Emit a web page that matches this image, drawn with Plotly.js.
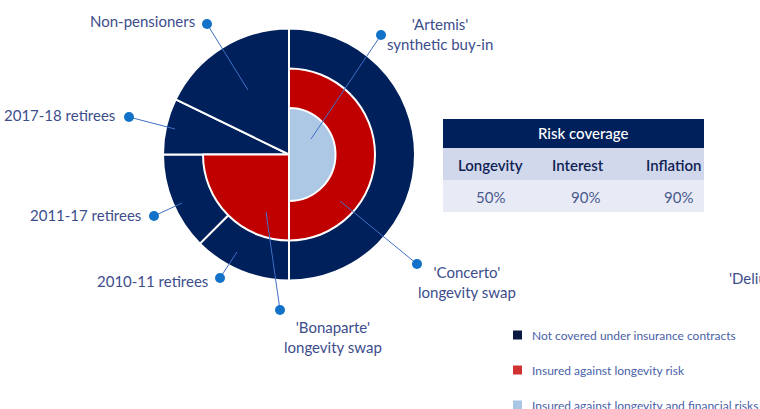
<!DOCTYPE html>
<html>
<head>
<meta charset="utf-8">
<script src="https://cdn.plot.ly/plotly-3.0.1.min.js"></script>
<style>html,body{margin:0;padding:0;background:#fff;}#chart{width:760px;height:409px;}</style>
</head>
<body>
<div id="chart"></div>
<script>
// ---- data ----
const outerLabels = ["Not covered (right half)", "2010-11 retirees", "2011-17 retirees", "2017-18 retirees", "Non-pensioners"];
const outerValues = [50, 12.5, 12.5, 7.2, 17.8];
const middleLabels = ["'Concerto' longevity swap", "'Bonaparte' longevity swap", "Uninsured"];
const middleValues = [50, 25, 25];
const innerLabels = ["'Artemis' synthetic buy-in", "Other"];
const innerValues = [50, 50];

const riskTitle = "Risk coverage";
const riskLabels = ["Longevity", "Interest", "Inflation"];
const riskValues = ["50%", "90%", "90%"];

const legendLabels = ["Not covered under insurance contracts", "Insured against longevity risk", "Insured against longevity and financial risks"];

// ---- styling / layout helpers ----
const W = 760, H = 409;
const CX = 289, CY = 154.5;
const NAVY = "#00205b", RED = "#c00000", LBLUE = "#adc8e4", CLEAR = "rgba(0,0,0,0)";
const px = x => x / W, py = y => 1 - y / H;
const dom = r => ({x: [px(CX - r), px(CX + r)], y: [py(CY + r), py(CY - r)]});

const pieBase = {type: "pie", sort: false, direction: "clockwise", rotation: 0,
  textinfo: "none", hoverinfo: "none", showlegend: false};

const traces = [
  Object.assign({}, pieBase, {labels: outerLabels, values: outerValues, domain: dom(126), hole: 0,
    marker: {colors: outerLabels.map(() => NAVY), line: {color: "#fff", width: 2}}}),
  Object.assign({}, pieBase, {labels: middleLabels, values: middleValues, domain: dom(86), hole: 0,
    marker: {colors: [RED, RED, CLEAR], line: {color: "#fff", width: [2, 2, 0]}}}),
  Object.assign({}, pieBase, {labels: innerLabels, values: innerValues, domain: dom(46.5), hole: 0,
    marker: {colors: [LBLUE, CLEAR], line: {color: "#fff", width: [2, 0]}}})
];

const LBL = "#3d4d8c";
const labelFont = {family: "Lato, 'Open Sans', sans-serif", size: 15, color: LBL};
const shapes = [], annotations = [];

// leader lines: [label text, text x, text y, anchor, dot x, dot y, target x, target y]
const leaders = [
  [outerLabels[4], 197, 21, "right", 207, 24, 248, 90],
  [outerLabels[3], 117, 115, "right", 129, 117, 175, 129],
  [outerLabels[2], 143, 215, "right", 154, 216, 182, 203],
  [outerLabels[1], 210, 281, "right", 220, 278, 237, 252],
  ["'Bonaparte'<br>longevity swap", 333, 337, "center", 280, 310, 266, 212],
  ["'Concerto'<br>longevity swap", 467, 282, "center", 417, 264, 340, 201],
  ["'Artemis'<br>synthetic buy-in", 440, 34, "center", 381, 35, 311, 139]
];
leaders.forEach(l => {
  shapes.push({type: "line", xref: "paper", yref: "paper", x0: px(l[4]), y0: py(l[5]), x1: px(l[6]), y1: py(l[7]),
    line: {color: "#3f70c4", width: 1}});
  shapes.push({type: "circle", xref: "paper", yref: "paper", x0: px(l[4] - 5), x1: px(l[4] + 5), y0: py(l[5] + 5), y1: py(l[5] - 5),
    fillcolor: "#1172c8", line: {width: 0}});
  annotations.push({text: l[0], xref: "paper", yref: "paper", x: px(l[1]), y: py(l[2]), xanchor: l[3], yanchor: "middle",
    showarrow: false, font: labelFont, align: "center"});
});
annotations.push({text: "'Delius'", xref: "paper", yref: "paper", x: px(727), y: py(278), xanchor: "left", yanchor: "middle",
  showarrow: false, font: labelFont});

// risk coverage table
const TX0 = 443, TX1 = 704;
shapes.push({type: "rect", xref: "paper", yref: "paper", x0: px(TX0), x1: px(TX1), y0: py(148), y1: py(119), fillcolor: NAVY, line: {width: 0}, layer: "below"});
shapes.push({type: "rect", xref: "paper", yref: "paper", x0: px(TX0), x1: px(TX1), y0: py(180), y1: py(148), fillcolor: "#d2d8ec", line: {width: 0}, layer: "below"});
shapes.push({type: "rect", xref: "paper", yref: "paper", x0: px(TX0), x1: px(TX1), y0: py(212), y1: py(180), fillcolor: "#e8ebf5", line: {width: 0}, layer: "below"});
annotations.push({text: riskTitle, xref: "paper", yref: "paper", x: px(583), y: py(133), xanchor: "center", yanchor: "middle",
  showarrow: false, font: {family: "Lato, sans-serif", size: 15, color: "#ffffff", weight: 500}});
const colHX = [490, 578, 673], colVX = [491, 585, 678];
riskLabels.forEach((t, i) => annotations.push({text: t, xref: "paper", yref: "paper", x: px(colHX[i]), y: py(165),
  xanchor: "center", yanchor: "middle", showarrow: false, font: {family: "Lato, sans-serif", size: 15, color: "#0f1f55", weight: 600}}));
riskValues.forEach((t, i) => annotations.push({text: t, xref: "paper", yref: "paper", x: px(colVX[i]), y: py(197),
  xanchor: "center", yanchor: "middle", showarrow: false, font: {family: "Lato, sans-serif", size: 15, color: "#4a5a8e"}}));

// manual legend
const legendColors = ["#0a1a42", "#d03232", "#a9c6e4"];
const legendY = [335, 370, 405];
legendLabels.forEach((t, i) => {
  shapes.push({type: "rect", xref: "paper", yref: "paper", x0: px(513), x1: px(522), y0: py(legendY[i] + 4.5), y1: py(legendY[i] - 4.5),
    fillcolor: legendColors[i], line: {width: 0}});
  annotations.push({text: t, xref: "paper", yref: "paper", x: px(530), y: py(legendY[i]), xanchor: "left", yanchor: "middle",
    showarrow: false, font: {family: "Lato, sans-serif", size: 12, color: "#4a5fa8"}});
});

const layout = {width: W, height: H, margin: {l: 0, r: 0, t: 0, b: 0}, paper_bgcolor: "#fff", plot_bgcolor: "#fff",
  showlegend: false, shapes: shapes, annotations: annotations};

Plotly.newPlot("chart", traces, layout, {displayModeBar: false, staticPlot: true});
</script>
</body>
</html>
